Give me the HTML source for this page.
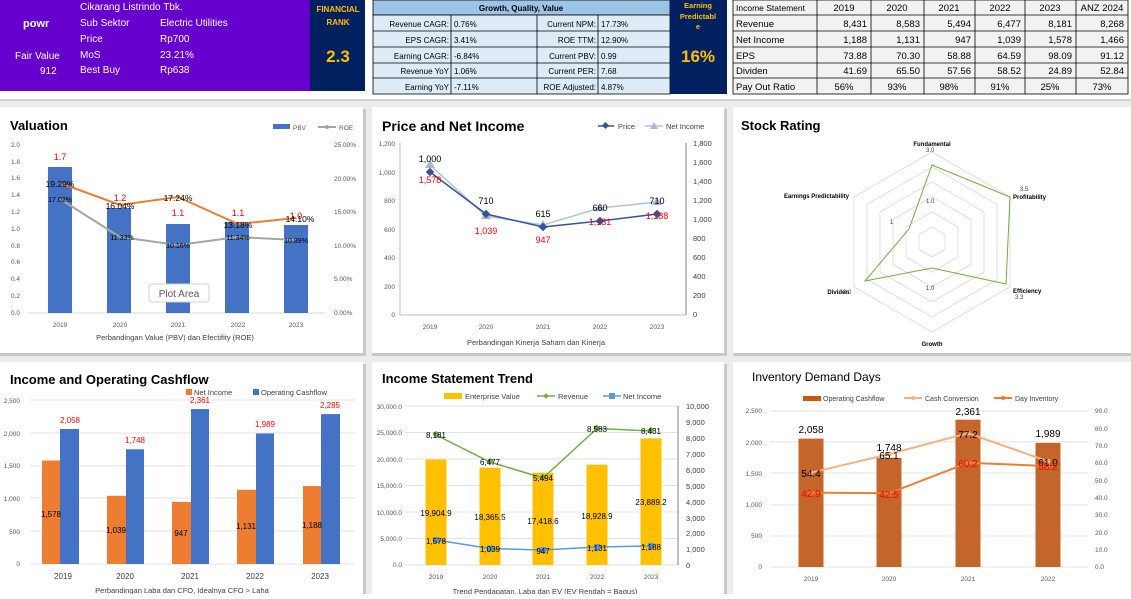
<!DOCTYPE html>
<html><head><meta charset="utf-8"><style>
body{margin:0;width:1131px;height:594px;overflow:hidden;background:#fff;font-family:"Liberation Sans",sans-serif}
svg text{font-family:"Liberation Sans",sans-serif}
</style></head><body>
<svg width="1131" height="594" viewBox="0 0 1131 594" xmlns="http://www.w3.org/2000/svg">
<rect x="0" y="0" width="1131" height="594" fill="#fff"/>
<!-- grey gap area -->
<rect x="0" y="100" width="1131" height="494" fill="#ececec"/>
<line x1="0" y1="100" x2="1131" y2="100" stroke="#b0b0b0"/>
<!-- panels -->
<g fill="#fff">
<rect x="0" y="107" width="363" height="246"/><rect x="372" y="107" width="352" height="246"/><rect x="733" y="107" width="398" height="246"/>
<rect x="0" y="362" width="363" height="232"/><rect x="372" y="362" width="352" height="232"/><rect x="733" y="362" width="398" height="232"/>
</g>
<g fill="#c8c8c8"><rect x="363" y="109" width="3" height="246"/><rect x="724" y="109" width="3" height="246"/><rect x="0" y="353" width="366" height="3"/><rect x="372" y="353" width="355" height="3"/><rect x="733" y="353" width="398" height="3"/>
<rect x="363" y="364" width="3" height="230"/><rect x="724" y="364" width="3" height="230"/></g>

<!-- HEADER -->
<rect x="0" y="0" width="310" height="91" fill="#6600cc"/>
<rect x="310" y="0" width="55" height="91" fill="#002060"/>
<g fill="#fff" font-size="10">
<text x="80" y="10">Cikarang Listrindo Tbk.</text>
<text x="23" y="27" font-weight="bold" font-size="11">powr</text>
<text x="80" y="26">Sub Sektor</text><text x="160" y="26">Electric Utilities</text>
<text x="80" y="42">Price</text><text x="160" y="42">Rp700</text>
<text x="15" y="59">Fair Value</text><text x="80" y="58">MoS</text><text x="160" y="58">23.21%</text>
<text x="40" y="74">912</text><text x="80" y="73">Best Buy</text><text x="160" y="73">Rp638</text>
</g>
<g fill="#ffc000" font-weight="bold" text-anchor="middle">
<text x="338" y="12" font-size="8">FINANCIAL</text><text x="338" y="25" font-size="8">RANK</text>
<text x="338" y="62" font-size="17">2.3</text></g>

<!-- growth table -->
<rect x="373" y="0" width="297" height="15" fill="#9dc3e6" stroke="#000" stroke-width="0.8"/>
<text x="521" y="11" font-size="8" font-weight="bold" text-anchor="middle">Growth, Quality, Value</text>
<g stroke="#000" stroke-width="0.8" fill="#ddebf7">
<rect x="373" y="15" width="297" height="79"/>
</g>
<g stroke="#000" stroke-width="0.8">
<line x1="373" y1="31" x2="670" y2="31"/><line x1="373" y1="47" x2="670" y2="47"/><line x1="373" y1="63" x2="670" y2="63"/><line x1="373" y1="78" x2="670" y2="78"/>
<line x1="451" y1="15" x2="451" y2="94"/><line x1="537" y1="15" x2="537" y2="94"/><line x1="598" y1="15" x2="598" y2="94"/>
</g>
<g font-size="8">
<g text-anchor="end"><text x="449" y="27">Revenue CAGR:</text><text x="449" y="43">EPS CAGR:</text><text x="449" y="59">Earning CAGR:</text><text x="449" y="74">Revenue YoY</text><text x="449" y="90">Earning YoY</text>
<text x="596" y="27">Current NPM:</text><text x="596" y="43">ROE TTM:</text><text x="596" y="59">Current PBV:</text><text x="596" y="74">Current PER:</text><text x="596" y="90">ROE Adjusted:</text></g>
<text x="454" y="27">0.76%</text><text x="454" y="43">3.41%</text><text x="454" y="59">-6.84%</text><text x="454" y="74">1.06%</text><text x="454" y="90">-7.11%</text>
<text x="601" y="27">17.73%</text><text x="601" y="43">12.90%</text><text x="601" y="59">0.99</text><text x="601" y="74">7.68</text><text x="601" y="90">4.87%</text>
</g>
<rect x="670" y="0" width="57" height="94" fill="#002060"/>
<g fill="#ffc000" font-weight="bold" text-anchor="middle">
<text x="698" y="8" font-size="7.5">Earning</text><text x="698" y="19" font-size="7.5">Predictabl</text><text x="698" y="29" font-size="7.5">e</text>
<text x="698" y="62" font-size="17">16%</text></g>

<!-- income table -->
<rect x="733" y="0" width="395" height="94" fill="#f2f2f2" stroke="#000" stroke-width="0.8"/>
<g stroke="#000" stroke-width="0.8">
<line x1="733" y1="15" x2="1128" y2="15"/><line x1="733" y1="31" x2="1128" y2="31"/><line x1="733" y1="47" x2="1128" y2="47"/><line x1="733" y1="63" x2="1128" y2="63"/><line x1="733" y1="78" x2="1128" y2="78"/>
<line x1="817" y1="0" x2="817" y2="94"/><line x1="871" y1="0" x2="871" y2="94"/><line x1="924" y1="0" x2="924" y2="94"/><line x1="975" y1="0" x2="975" y2="94"/><line x1="1025" y1="0" x2="1025" y2="94"/><line x1="1076" y1="0" x2="1076" y2="94"/>
</g>
<g font-size="9.5">
<text x="736" y="11" font-size="8.5">Income Statement</text>
<text x="736" y="27">Revenue</text><text x="736" y="43">Net Income</text><text x="736" y="59">EPS</text><text x="736" y="74">Dividen</text><text x="736" y="90">Pay Out Ratio</text>
<g text-anchor="middle"><text x="844" y="11">2019</text><text x="897" y="11">2020</text><text x="949" y="11">2021</text><text x="1000" y="11">2022</text><text x="1050" y="11">2023</text><text x="1102" y="11">ANZ 2024</text>
<text x="844" y="90">56%</text><text x="897" y="90">93%</text><text x="949" y="90">98%</text><text x="1000" y="90">91%</text><text x="1050" y="90">25%</text><text x="1102" y="90">73%</text></g>
<g text-anchor="end">
<text x="867" y="27">8,431</text><text x="920" y="27">8,583</text><text x="971" y="27">5,494</text><text x="1021" y="27">6,477</text><text x="1072" y="27">8,181</text><text x="1124" y="27">8,268</text>
<text x="867" y="43">1,188</text><text x="920" y="43">1,131</text><text x="971" y="43">947</text><text x="1021" y="43">1,039</text><text x="1072" y="43">1,578</text><text x="1124" y="43">1,466</text>
<text x="867" y="59">73.88</text><text x="920" y="59">70.30</text><text x="971" y="59">58.88</text><text x="1021" y="59">64.59</text><text x="1072" y="59">98.09</text><text x="1124" y="59">91.12</text>
<text x="867" y="74">41.69</text><text x="920" y="74">65.50</text><text x="971" y="74">57.56</text><text x="1021" y="74">58.52</text><text x="1072" y="74">24.89</text><text x="1124" y="74">52.84</text>
</g></g>

<!-- VALUATION -->
<text x="10" y="130" font-size="13" font-weight="bold">Valuation</text>
<rect x="273" y="124" width="17" height="5" fill="#4472c4"/><text x="293" y="130" font-size="6.5" fill="#595959">PBV</text>
<line x1="318" y1="127" x2="336" y2="127" stroke="#a5a5a5" stroke-width="2"/><circle cx="327" cy="127" r="2" fill="#a5a5a5"/><text x="339" y="130" font-size="6.5" fill="#595959">ROE</text>
<g font-size="6.5" fill="#595959">
<g text-anchor="end"><text x="20" y="147">2.0</text><text x="20" y="164">1.8</text><text x="20" y="180">1.6</text><text x="20" y="197">1.4</text><text x="20" y="214">1.2</text><text x="20" y="231">1.0</text><text x="20" y="248">0.8</text><text x="20" y="264">0.6</text><text x="20" y="281">0.4</text><text x="20" y="298">0.2</text><text x="20" y="315">0.0</text></g>
<text x="334" y="147">25.00%</text><text x="334" y="181">20.00%</text><text x="334" y="214">15.00%</text><text x="334" y="248">10.00%</text><text x="334" y="281">5.00%</text><text x="334" y="315">0.00%</text>
<g text-anchor="middle"><text x="60" y="327">2019</text><text x="120" y="327">2020</text><text x="178" y="327">2021</text><text x="238" y="327">2022</text><text x="296" y="327">2023</text></g>
<text x="175" y="340" text-anchor="middle" font-size="7.5" fill="#404040">Perbandingan Value (PBV) dan Efectifity (ROE)</text>
</g>
<line x1="28" y1="313" x2="325" y2="313" stroke="#d9d9d9"/>
<g fill="#4472c4"><rect x="48" y="167" width="24" height="146"/><rect x="107" y="208" width="24" height="105"/><rect x="166" y="224" width="24" height="89"/><rect x="225" y="222" width="24" height="91"/><rect x="284" y="225" width="24" height="88"/></g>
<polyline points="60,183 120,205 178,197 238,224 296,218" fill="none" stroke="#ed7d31" stroke-width="2"/>
<polyline points="60,199 120,237 178,245 238,237 296,240" fill="none" stroke="#a5a5a5" stroke-width="2"/>
<g font-size="9" fill="#ff0000" text-anchor="middle"><text x="60" y="160">1.7</text><text x="120" y="201">1.2</text><text x="178" y="216">1.1</text><text x="238" y="216">1.1</text><text x="296" y="219">1.0</text></g>
<g font-size="8.5" text-anchor="middle"><text x="60" y="187">19.29%</text><text x="120" y="209">16.04%</text><text x="178" y="201">17.24%</text><text x="238" y="228">13.18%</text><text x="300" y="222">14.10%</text></g>
<g font-size="7" text-anchor="middle"><text x="60" y="202">17.02%</text><text x="122" y="240">11.33%</text><text x="178" y="248">10.16%</text><text x="238" y="240">11.34%</text><text x="296" y="243">10.89%</text></g>
<rect x="149" y="284" width="60" height="18" rx="3" fill="#fff" stroke="#d0d0d0"/><text x="179" y="297" font-size="10" fill="#595959" text-anchor="middle">Plot Area</text>

<!-- PRICE AND NET INCOME -->
<text x="382" y="131" font-size="14" font-weight="bold">Price and Net Income</text>
<line x1="598" y1="126" x2="614" y2="126" stroke="#2f5597" stroke-width="1.5"/><rect x="603" y="123" width="5" height="5" fill="#2f5597" transform="rotate(45 605.5 125.5)"/><text x="618" y="129" font-size="7.5" fill="#404040">Price</text>
<line x1="645" y1="126" x2="663" y2="126" stroke="#b4c0de" stroke-width="1.5"/><polygon points="654,122 658,129 650,129" fill="#a9b6d9"/><text x="666" y="129" font-size="7.5" fill="#404040">Net Income</text>
<line x1="400" y1="143" x2="400" y2="315" stroke="#bfbfbf"/><line x1="686" y1="143" x2="686" y2="315" stroke="#808080"/><line x1="400" y1="315" x2="686" y2="315" stroke="#bfbfbf"/>
<g font-size="6.5" fill="#595959" text-anchor="end"><text x="395" y="146">1,200</text><text x="395" y="175">1,000</text><text x="395" y="203">800</text><text x="395" y="232">600</text><text x="395" y="260">400</text><text x="395" y="289">200</text><text x="395" y="317">0</text></g>
<g font-size="7.5" fill="#404040"><text x="693" y="146">1,800</text><text x="693" y="165">1,600</text><text x="693" y="184">1,400</text><text x="693" y="203">1,200</text><text x="693" y="222">1,000</text><text x="693" y="241">800</text><text x="693" y="260">600</text><text x="693" y="279">400</text><text x="693" y="298">200</text><text x="693" y="317">0</text></g>
<g font-size="6.5" fill="#595959" text-anchor="middle"><text x="430" y="329">2019</text><text x="486" y="329">2020</text><text x="543" y="329">2021</text><text x="600" y="329">2022</text><text x="657" y="329">2023</text>
<text x="536" y="345" font-size="7.5" fill="#404040">Perbandingan Kinerja Saham dan Kinerja</text></g>
<polyline points="430,165 486,216 543,225 600,208 657,202" fill="none" stroke="#b4c0de" stroke-width="1.5"/>
<g fill="#a9b6d9"><polygon points="430,160 435,168 425,168"/><polygon points="486,211 491,219 481,219"/><polygon points="543,220 548,228 538,228"/><polygon points="600,203 605,211 595,211"/><polygon points="657,197 662,205 652,205"/></g>
<polyline points="430,172 486,214 543,227 600,221 657,214" fill="none" stroke="#2f5597" stroke-width="1.5"/>
<g fill="#2f5597"><rect x="427" y="169" width="6" height="6" transform="rotate(45 430 172)"/><rect x="483" y="211" width="6" height="6" transform="rotate(45 486 214)"/><rect x="540" y="224" width="6" height="6" transform="rotate(45 543 227)"/><rect x="597" y="218" width="6" height="6" transform="rotate(45 600 221)"/><rect x="654" y="211" width="6" height="6" transform="rotate(45 657 214)"/></g>
<g font-size="9" text-anchor="middle"><text x="430" y="162">1,000</text><text x="486" y="204">710</text><text x="543" y="217">615</text><text x="600" y="211">660</text><text x="657" y="204">710</text></g>
<g font-size="9" fill="#ff0000" text-anchor="middle"><text x="430" y="183">1,578</text><text x="486" y="234">1,039</text><text x="543" y="243">947</text><text x="600" y="225">1,131</text><text x="657" y="219">1,188</text></g>

<!-- STOCK RATING -->
<text x="741" y="130" font-size="13" font-weight="bold">Stock Rating</text>
<g fill="none" stroke="#d9d9d9" stroke-width="0.8">
<polygon points="932,152 1010,197 1010,287 932,332 854,287 854,197"/>
<polygon points="932,167 997,204.5 997,279.5 932,317 867,279.5 867,204.5"/>
<polygon points="932,182 984,212 984,272 932,302 880,272 880,212"/>
<polygon points="932,197 971,219.5 971,264.5 932,287 893,264.5 893,219.5"/>
<polygon points="932,212 958,227 958,257 932,272 906,257 906,227"/>
<polygon points="932,227 945,234.5 945,249.5 932,257 919,249.5 919,234.5"/>
</g>
<polygon points="932,165 1010,197 1006,284 932,268 865,281 909,229" fill="none" stroke="#70ad47" stroke-width="1"/>
<g font-size="6" font-weight="bold">
<text x="932" y="146" text-anchor="middle">Fundamental</text>
<text x="1013" y="199">Profitability</text>
<text x="1013" y="293">Efficiency</text>
<text x="932" y="346" text-anchor="middle">Growth</text>
<text x="849" y="294" text-anchor="end">Dividen</text>
<text x="849" y="198" text-anchor="end">Earnings Predictability</text>
</g>
<g font-size="6" fill="#404040"><text x="926" y="152">3.0</text><text x="1020" y="191">3.5</text><text x="1015" y="299">3.3</text><text x="843" y="294">3.0</text><text x="890" y="224">1</text><text x="926" y="203">1.0</text><text x="926" y="290">1.0</text></g>

<!-- INCOME AND OCF -->
<text x="10" y="384" font-size="13" font-weight="bold">Income and Operating Cashflow</text>
<rect x="186" y="389" width="6" height="6" fill="#ed7d31"/><text x="194" y="395" font-size="7.5" fill="#404040">Net Income</text>
<rect x="253" y="389" width="6" height="6" fill="#4472c4"/><text x="261" y="395" font-size="7.5" fill="#404040">Operating Cashflow</text>
<g stroke="#d9d9d9" stroke-width="0.8"><line x1="30" y1="400" x2="355" y2="400"/><line x1="30" y1="433" x2="355" y2="433"/><line x1="30" y1="466" x2="355" y2="466"/><line x1="30" y1="498" x2="355" y2="498"/><line x1="30" y1="531" x2="355" y2="531"/><line x1="30" y1="564" x2="355" y2="564"/></g>
<g font-size="6.5" fill="#595959" text-anchor="end"><text x="20" y="403">2,500</text><text x="20" y="436">2,000</text><text x="20" y="468">1,500</text><text x="20" y="501">1,000</text><text x="20" y="534">500</text><text x="20" y="566">0</text></g>
<g fill="#ed7d31"><rect x="42" y="460.5" width="18" height="103.5"/><rect x="107" y="495.8" width="19" height="68.2"/><rect x="172" y="501.9" width="19" height="62.1"/><rect x="237" y="489.8" width="19" height="74.2"/><rect x="303" y="486" width="18" height="78"/></g>
<g fill="#4472c4"><rect x="60" y="429" width="19" height="135"/><rect x="126" y="449.3" width="18" height="114.7"/><rect x="191" y="409.1" width="18" height="154.9"/><rect x="256" y="433.5" width="18" height="130.5"/><rect x="321" y="414.1" width="19" height="149.9"/></g>
<g font-size="8" fill="#ff0000" text-anchor="middle"><text x="70" y="423">2,058</text><text x="135" y="443">1,748</text><text x="200" y="403">2,361</text><text x="265" y="427">1,989</text><text x="330" y="408">2,285</text></g>
<g font-size="8" text-anchor="middle"><text x="51" y="517">1,578</text><text x="116" y="533">1,039</text><text x="181" y="536">947</text><text x="246" y="529">1,131</text><text x="312" y="528">1,188</text></g>
<g font-size="8" fill="#404040" text-anchor="middle"><text x="63" y="579">2019</text><text x="125" y="579">2020</text><text x="190" y="579">2021</text><text x="255" y="579">2022</text><text x="320" y="579">2023</text>
<text x="182" y="593" font-size="7.5">Perbandingan Laba dan CFO, Idealnya CFO &gt; Laha</text></g>

<!-- INCOME STATEMENT TREND -->
<text x="382" y="383" font-size="13" font-weight="bold">Income Statement Trend</text>
<rect x="444" y="393" width="18" height="6" fill="#ffc000"/><text x="465" y="399" font-size="7.5" fill="#404040">Enterprise Value</text>
<line x1="537" y1="396" x2="555" y2="396" stroke="#70ad47" stroke-width="1.5"/><rect x="544" y="394" width="4" height="4" fill="#70ad47" transform="rotate(45 546 396)"/><text x="558" y="399" font-size="7.5" fill="#404040">Revenue</text>
<line x1="603" y1="396" x2="621" y2="396" stroke="#5b9bd5" stroke-width="1.5"/><rect x="609" y="393" width="6" height="6" fill="#5b9bd5"/><text x="623" y="399" font-size="7.5" fill="#404040">Net Income</text>
<g stroke="#d9d9d9" stroke-width="0.8"><line x1="405" y1="406" x2="678" y2="406"/><line x1="405" y1="432.5" x2="678" y2="432.5"/><line x1="405" y1="459" x2="678" y2="459"/><line x1="405" y1="485.5" x2="678" y2="485.5"/><line x1="405" y1="512" x2="678" y2="512"/><line x1="405" y1="538.5" x2="678" y2="538.5"/><line x1="405" y1="565" x2="678" y2="565"/></g>
<line x1="678" y1="406" x2="678" y2="565" stroke="#808080"/>
<g font-size="6.5" fill="#595959" text-anchor="end"><text x="402" y="409">30,000.0</text><text x="402" y="435">25,000.0</text><text x="402" y="462">20,000.0</text><text x="402" y="488">15,000.0</text><text x="402" y="515">10,000.0</text><text x="402" y="541">5,000.0</text><text x="402" y="567">0.0</text></g>
<g font-size="7.5" fill="#404040"><text x="686" y="409">10,000</text><text x="686" y="425">9,000</text><text x="686" y="441">8,000</text><text x="686" y="457">7,000</text><text x="686" y="473">6,000</text><text x="686" y="489">5,000</text><text x="686" y="505">4,000</text><text x="686" y="521">3,000</text><text x="686" y="536">2,000</text><text x="686" y="552">1,000</text><text x="686" y="568">0</text></g>
<g fill="#ffc000"><rect x="425.5" y="459.5" width="21" height="105.5"/><rect x="479.5" y="467.7" width="21" height="97.3"/><rect x="532.5" y="472.7" width="21" height="92.3"/><rect x="586.5" y="464.7" width="21" height="100.3"/><rect x="640.5" y="438.4" width="21" height="126.6"/></g>
<polyline points="436,435 490,462 543,478 597,428.5 651,431" fill="none" stroke="#70ad47" stroke-width="1.5"/>
<g fill="#70ad47"><rect x="433" y="432" width="5" height="5" transform="rotate(45 436 435)"/><rect x="487" y="459" width="5" height="5" transform="rotate(45 490 462)"/><rect x="540" y="475" width="5" height="5" transform="rotate(45 543 478)"/><rect x="594" y="426" width="5" height="5" transform="rotate(45 597 428.5)"/><rect x="648" y="428" width="5" height="5" transform="rotate(45 651 431)"/></g>
<polyline points="436,540 490,548.5 543,550 597,547 651,546" fill="none" stroke="#5b9bd5" stroke-width="1.5"/>
<g fill="#5b9bd5"><rect x="433" y="537" width="6" height="6"/><rect x="487" y="545.5" width="6" height="6"/><rect x="540" y="547" width="6" height="6"/><rect x="594" y="544" width="6" height="6"/><rect x="648" y="543" width="6" height="6"/></g>
<g font-size="8" text-anchor="middle"><text x="436" y="438">8,181</text><text x="490" y="465">6,477</text><text x="543" y="481">5,494</text><text x="597" y="432">8,583</text><text x="651" y="434">8,431</text>
<text x="436" y="516">19,904.9</text><text x="490" y="520">18,365.5</text><text x="543" y="524">17,418.6</text><text x="597" y="519">18,928.9</text><text x="651" y="505">23,889.2</text>
<text x="436" y="544">1,578</text><text x="490" y="552">1,039</text><text x="543" y="554">947</text><text x="597" y="551">1,131</text><text x="651" y="550">1,188</text></g>
<g font-size="6.5" fill="#595959" text-anchor="middle"><text x="436" y="579">2019</text><text x="490" y="579">2020</text><text x="543" y="579">2021</text><text x="597" y="579">2022</text><text x="651" y="579">2023</text>
<text x="545" y="594" font-size="7.5" fill="#404040">Trend Pendapatan, Laba dan EV (EV Rendah = Bagus)</text></g>

<!-- INVENTORY DEMAND DAYS -->
<text x="752" y="381" font-size="12">Inventory Demand Days</text>
<rect x="803" y="396" width="18" height="5" fill="#c55a11"/><text x="823" y="401" font-size="7" fill="#404040">Operating Cashflow</text>
<line x1="904" y1="398" x2="922" y2="398" stroke="#f4b183" stroke-width="2"/><circle cx="913" cy="398" r="2" fill="#f4b183"/><text x="925" y="401" font-size="7" fill="#404040">Cash Conversion</text>
<line x1="994" y1="398" x2="1012" y2="398" stroke="#ed7d31" stroke-width="2"/><circle cx="1003" cy="398" r="2" fill="#ed7d31"/><text x="1015" y="401" font-size="7" fill="#404040">Day Inventory</text>
<g stroke="#d9d9d9" stroke-width="0.8"><line x1="770" y1="411" x2="1088" y2="411"/><line x1="770" y1="442" x2="1088" y2="442"/><line x1="770" y1="473" x2="1088" y2="473"/><line x1="770" y1="505" x2="1088" y2="505"/><line x1="770" y1="536" x2="1088" y2="536"/><line x1="770" y1="567" x2="1088" y2="567"/></g>
<g font-size="6.5" fill="#595959" text-anchor="end"><text x="762" y="413">2,500</text><text x="762" y="445">2,000</text><text x="762" y="476">1,500</text><text x="762" y="507">1,000</text><text x="762" y="538">500</text><text x="762" y="569">0</text></g>
<g font-size="6.5" fill="#595959"><text x="1095" y="413">90.0</text><text x="1095" y="431">80.0</text><text x="1095" y="448">70.0</text><text x="1095" y="465">60.0</text><text x="1095" y="483">50.0</text><text x="1095" y="500">40.0</text><text x="1095" y="517">30.0</text><text x="1095" y="535">20.0</text><text x="1095" y="552">10.0</text><text x="1095" y="569">0.0</text></g>
<g fill="#c4652b"><rect x="798.5" y="438.6" width="25" height="128.4"/><rect x="876.5" y="457.9" width="25" height="109.1"/><rect x="955.5" y="419.7" width="25" height="147.3"/><rect x="1035.5" y="442.9" width="25" height="124.1"/></g>
<polyline points="811,472.7 889,454.2 968,433.2 1048,461.3" fill="none" stroke="#f4b183" stroke-width="2"/>
<g fill="#f4b183"><circle cx="811" cy="472.7" r="2.5"/><circle cx="889" cy="454.2" r="2.5"/><circle cx="968" cy="433.2" r="2.5"/><circle cx="1048" cy="461.3" r="2.5"/></g>
<polyline points="811,492.6 889,493.3 968,462.7 1048,466.1" fill="none" stroke="#ed7d31" stroke-width="2"/>
<g fill="#ed7d31"><circle cx="811" cy="492.6" r="2.5"/><circle cx="889" cy="493.3" r="2.5"/><circle cx="968" cy="462.7" r="2.5"/><circle cx="1048" cy="466.1" r="2.5"/></g>
<g font-size="10" text-anchor="middle"><text x="811" y="433">2,058</text><text x="889" y="451">1,748</text><text x="968" y="415">2,361</text><text x="1048" y="437">1,989</text>
<text x="811" y="477">54.4</text><text x="889" y="459">65.1</text><text x="968" y="438">77.2</text><text x="1048" y="466">61.0</text></g>
<g font-size="10" fill="#ff0000" text-anchor="middle"><text x="811" y="497">42.9</text><text x="889" y="498">42.5</text><text x="968" y="467">60.2</text><text x="1048" y="470">58.2</text></g>
<g font-size="6.5" fill="#595959" text-anchor="middle"><text x="811" y="581">2019</text><text x="889" y="581">2020</text><text x="968" y="581">2021</text><text x="1048" y="581">2022</text></g>
</svg>
</body></html>
